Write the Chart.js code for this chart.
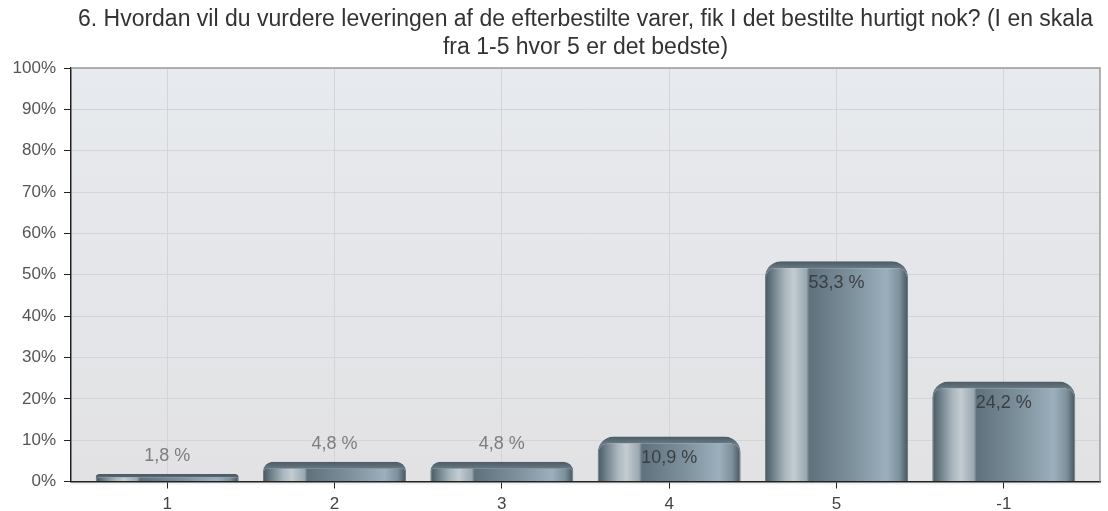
<!DOCTYPE html>
<html>
<head>
<meta charset="utf-8">
<script src="https://cdn.jsdelivr.net/npm/chart.js@4"></script>
<style>
    html, body { margin: 0; padding: 0; background: #fff; }
    #wrap { width: 1108px; height: 511px; }
</style>
</head>
<body>
<div id="wrap"><canvas id="myChart" width="1108" height="511"></canvas></div>
<script>
const titleLines = [
    '6. Hvordan vil du vurdere leveringen af de efterbestilte varer, fik I det bestilte hurtigt nok? (I en skala',
    'fra 1-5 hvor 5 er det bedste)'
];
const categories = ['1', '2', '3', '4', '5', '-1'];
const percents = [1.8, 4.8, 4.8, 10.9, 53.3, 24.2];
const yTicks = [0, 10, 20, 30, 40, 50, 60, 70, 80, 90, 100];

const FONT = "'Liberation Sans', Arial, Helvetica, sans-serif";
const BAR_PCT = 0.855;

// plot background + top/right frame
const plotFrame = {
    id: 'plotFrame',
    beforeDraw(chart) {
        const { ctx, chartArea: a } = chart;
        ctx.save();
        const g = ctx.createLinearGradient(0, a.top, 0, a.bottom);
        g.addColorStop(0, '#e7eaee');
        g.addColorStop(1, '#e2e2e4');
        ctx.fillStyle = g;
        ctx.fillRect(a.left, a.top, a.right - a.left, a.bottom - a.top);
        // faint shadow under the x axis
        ctx.fillStyle = 'rgba(0,0,0,0.06)';
        ctx.fillRect(a.left, a.bottom, a.right - a.left, 3);
        ctx.restore();
    },
    afterDraw(chart) {
        const { ctx, chartArea: a } = chart;
        ctx.save();
        ctx.strokeStyle = '#9a9a9a';
        ctx.lineWidth = 1.5;
        ctx.beginPath();
        ctx.moveTo(a.left, a.top);
        ctx.lineTo(a.right, a.top);
        ctx.lineTo(a.right, a.bottom);
        ctx.stroke();
        ctx.restore();
    }
};

// value labels, above small bars and inside tall ones
const valueLabels = {
    id: 'valueLabels',
    afterDatasetsDraw(chart) {
        const { ctx } = chart;
        const meta = chart.getDatasetMeta(0);
        ctx.save();
        ctx.font = '18px ' + FONT;
        ctx.textAlign = 'center';
        ctx.textBaseline = 'middle';
        meta.data.forEach((bar, i) => {
            const v = percents[i];
            const txt = v.toFixed(1).replace('.', ',') + ' %';
            if (v < 8) {
                ctx.fillStyle = '#7d7d7d';
                ctx.fillText(txt, bar.x, bar.y - 18);
            } else {
                ctx.fillStyle = '#3a3f43';
                ctx.fillText(txt, bar.x, bar.y + 22);
            }
        });
        ctx.restore();
    }
};

function barGradient(context) {
    const chart = context.chart;
    const xs = chart.scales.x;
    if (!chart.chartArea || !xs) return '#7b8f9b';
    const step = xs.getPixelForValue(1) - xs.getPixelForValue(0);
    const w = step * BAR_PCT;
    const cx = xs.getPixelForValue(context.dataIndex);
    if (!isFinite(cx) || !isFinite(w)) return '#7b8f9b';
    const g = chart.ctx.createLinearGradient(cx - w / 2, 0, cx + w / 2, 0);
    g.addColorStop(0, '#48575f');
    g.addColorStop(0.05, '#6a7b85');
    g.addColorStop(0.14, '#a9b6bd');
    g.addColorStop(0.2, '#c3ccd1');
    g.addColorStop(0.29, '#9aa8b0');
    g.addColorStop(0.31, '#5f717c');
    g.addColorStop(0.6, '#7c909c');
    g.addColorStop(0.85, '#9bb0bc');
    g.addColorStop(0.94, '#7d919c');
    g.addColorStop(1, '#45545c');
    return g;
}

// darker cap along the rounded top of each bar
function capGradient(context) {
    const chart = context.chart;
    const ys = chart.scales.y;
    if (!chart.chartArea || !ys) return '#55666f';
    const top = ys.getPixelForValue(percents[context.dataIndex]);
    if (!isFinite(top)) return '#55666f';
    const g = chart.ctx.createLinearGradient(0, top, 0, top + 8);
    g.addColorStop(0, '#4b5a63');
    g.addColorStop(1, '#6b7d88');
    return g;
}

const ctx = document.getElementById('myChart').getContext('2d');
const myChart = new Chart(ctx, {
    type: 'bar',
    data: {
        datasets: [{
            data: percents.map((v, i) => ({ x: i, y: v })),
            backgroundColor: barGradient,
            borderColor: capGradient,
            borderWidth: { top: 7, left: 1, right: 1, bottom: 0 },
            borderSkipped: 'bottom',
            borderRadius: { topLeft: 16, topRight: 16, bottomLeft: 0, bottomRight: 0 },
            barPercentage: BAR_PCT,
            categoryPercentage: 1
        }]
    },
    options: {
        responsive: false,
        animation: false,
        layout: { padding: { top: 0, right: 8, bottom: 0, left: 0 } },
        plugins: {
            legend: { display: false },
            tooltip: { enabled: false },
            title: {
                display: true,
                text: titleLines,
                fullSize: false,
                color: '#333333',
                font: { family: FONT, size: 23, weight: 'normal', lineHeight: 1.22 },
                padding: { top: 5.5, bottom: 6.5 }
            }
        },
        scales: {
            x: {
                type: 'linear',
                offset: false,
                min: -0.575,
                max: 5.575,
                afterBuildTicks: s => { s.ticks = categories.map((c, i) => ({ value: i })); },
                afterFit: s => { s.height = 29.5; },
                ticks: {
                    autoSkip: false,
                    callback: v => categories[v],
                    color: '#444444',
                    font: { family: FONT, size: 17 },
                    padding: 6
                },
                grid: {
                    offset: false,
                    color: '#d4d5d8',
                    tickColor: '#222222',
                    tickLength: 7
                },
                border: { color: '#222222', width: 1.5 }
            },
            y: {
                min: 0,
                max: 100,
                afterBuildTicks: s => { s.ticks = yTicks.map(v => ({ value: v })); },
                afterFit: s => { s.width = 71; },
                ticks: {
                    callback: v => v + '%',
                    color: '#555555',
                    font: { family: FONT, size: 17 },
                    padding: 8
                },
                grid: {
                    color: '#d4d5d8',
                    tickColor: '#222222',
                    tickLength: 7
                },
                border: { color: '#222222', width: 1.5 }
            }
        }
    },
    plugins: [plotFrame, valueLabels]
});
</script>
</body>
</html>
